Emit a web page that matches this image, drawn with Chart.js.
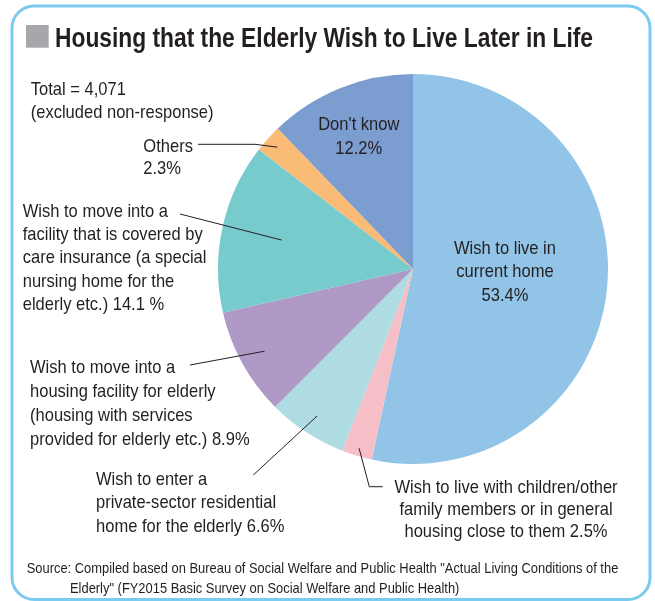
<!DOCTYPE html>
<html>
<head>
<meta charset="utf-8">
<script src="https://cdn.jsdelivr.net/npm/chart.js@4/dist/chart.umd.min.js"></script>
<style>
  html, body { margin: 0; padding: 0; background: #ffffff; }
  #wrap { position: relative; width: 655px; height: 601px; }
  canvas { display: block; }
</style>
</head>
<body>
<div id="wrap"><canvas id="c" width="655" height="601"></canvas></div>
<script>
// ---- data ----
const categories = [
  "Wish to live in current home",
  "Wish to live with children/other family members or in general housing close to them",
  "Wish to enter a private-sector residential home for the elderly",
  "Wish to move into a housing facility for elderly (housing with services provided for elderly etc.)",
  "Wish to move into a facility that is covered by care insurance (a special nursing home for the elderly etc.)",
  "Others",
  "Don't know"
];
const values = [53.4, 2.5, 6.6, 8.9, 14.1, 2.3, 12.2];
const sliceColors = ["#92c4e8", "#f6bfc7", "#aedce2", "#ae99c7", "#77cbcd", "#f9bb76", "#7c9dd0"];

const titleText = "Housing that the Elderly Wish to Live Later in Life";
const totalLines = ["Total = 4,071", "(excluded non-response)"];
const labelLines = [
  ["Wish to live in", "current home", "53.4%"],
  ["Wish to live with children/other", "family members or in general", "housing close to them 2.5%"],
  ["Wish to enter a", "private-sector residential", "home for the elderly 6.6%"],
  ["Wish to move into a", "housing facility for elderly", "(housing with services", "provided for elderly etc.) 8.9%"],
  ["Wish to move into a", "facility that is covered by", "care insurance (a special", "nursing home for the", "elderly etc.) 14.1 %"],
  ["Others", "2.3%"],
  ["Don't know", "12.2%"]
];
const sourceLines = [
  "Source: Compiled based on Bureau of Social Welfare and Public Health \"Actual Living Conditions of the",
  "Elderly\" (FY2015 Basic Survey on Social Welfare and Public Health)"
];

// ---- layout / style (not data) ----
const FONT = '"Liberation Sans", Arial, sans-serif';
const TEXT_COLOR = "#231f20";
const LABEL_SIZE = 19;
const LABEL_SX = 0.87;
const LINE_H = 23.3;
// per-slice label layout: text anchor, alignment, leader path (text side) and radial fraction for inner end
const labelLayout = [
  { x: 505, y: 254, align: "center" },
  { x: 506, y: 493.3, align: "center", lh: 22, leader: [[382.7, 486.7], [369.3, 486.7]], rf: 0.96 },
  { x: 96, y: 485, align: "left", lh: 23.3, leader: [[253.3, 475]], rf: 0.90 },
  { x: 30, y: 373, align: "left", lh: 24, leader: [[190, 365]], rf: 0.87 },
  { x: 22.7, y: 216.7, align: "left", lh: 23.3, leader: [[180, 214]], rf: 0.69 },
  { x: 143.3, y: 151.7, align: "left", lh: 22.5, leader: [[198, 144.3], [255, 144.3]], rf: 0.935 },
  { x: 358.8, y: 130, align: "center", lh: 24 }
];

function drawText(ctx, s, x, y, size, align, sx, bold) {
  ctx.save();
  ctx.font = (bold ? "bold " : "") + size + "px " + FONT;
  ctx.fillStyle = TEXT_COLOR;
  ctx.textAlign = align;
  ctx.textBaseline = "alphabetic";
  ctx.translate(x, y);
  ctx.scale(sx, 1);
  ctx.fillText(s, 0, 0);
  ctx.restore();
}
function fitScale(ctx, s, size, bold, width) {
  ctx.save();
  ctx.font = (bold ? "bold " : "") + size + "px " + FONT;
  const w = ctx.measureText(s).width;
  ctx.restore();
  return width / w;
}
function roundRect(ctx, x, y, w, h, r) {
  ctx.beginPath();
  ctx.moveTo(x + r, y);
  ctx.lineTo(x + w - r, y);
  ctx.arcTo(x + w, y, x + w, y + r, r);
  ctx.lineTo(x + w, y + h - r);
  ctx.arcTo(x + w, y + h, x + w - r, y + h, r);
  ctx.lineTo(x + r, y + h);
  ctx.arcTo(x, y + h, x, y + h - r, r);
  ctx.lineTo(x, y + r);
  ctx.arcTo(x, y, x + r, y, r);
  ctx.closePath();
}

const decor = {
  id: "decor",
  beforeDraw(chart) {
    const ctx = chart.ctx;
    ctx.save();
    ctx.fillStyle = "#ffffff";
    ctx.fillRect(0, 0, chart.width, chart.height);
    ctx.strokeStyle = "#7ccaf0";
    ctx.lineWidth = 3;
    roundRect(ctx, 12, 6, 638, 593.5, 22);
    ctx.stroke();
    // title square
    ctx.fillStyle = "#a6a7ab";
    ctx.fillRect(26, 25, 22.7, 22.7);
    ctx.restore();
    const tsx = fitScale(ctx, titleText, 28, true, 538);
    drawText(ctx, titleText, 55, 46.7, 28, "left", tsx, true);
  },
  afterDraw(chart) {
    const ctx = chart.ctx;
    const meta = chart.getDatasetMeta(0);
    // leader lines
    ctx.save();
    ctx.strokeStyle = TEXT_COLOR;
    ctx.lineWidth = 1;
    meta.data.forEach((arc, i) => {
      const L = labelLayout[i];
      if (!L.leader) return;
      const p = arc.getProps(["x", "y", "startAngle", "endAngle", "outerRadius"], true);
      const mid = (p.startAngle + p.endAngle) / 2;
      const ex = p.x + Math.cos(mid) * p.outerRadius * L.rf;
      const ey = p.y + Math.sin(mid) * p.outerRadius * L.rf;
      ctx.beginPath();
      ctx.moveTo(L.leader[0][0], L.leader[0][1]);
      for (let k = 1; k < L.leader.length; k++) ctx.lineTo(L.leader[k][0], L.leader[k][1]);
      ctx.lineTo(ex, ey);
      ctx.stroke();
    });
    ctx.restore();
    // labels
    labelLines.forEach((lines, i) => {
      const L = labelLayout[i];
      const lh = L.lh || LINE_H;
      lines.forEach((s, k) => drawText(ctx, s, L.x, L.y + k * lh, LABEL_SIZE, L.align, LABEL_SX, false));
    });
    totalLines.forEach((s, k) => drawText(ctx, s, 30.7, 95 + k * 23, LABEL_SIZE, "left", LABEL_SX, false));
    // source
    const ssx = fitScale(ctx, sourceLines[0], 14.5, false, 591.6);
    drawText(ctx, sourceLines[0], 26.7, 573.3, 14.5, "left", ssx, false);
    drawText(ctx, sourceLines[1], 70, 593.3, 14.5, "left", ssx, false);
  }
};

new Chart(document.getElementById("c"), {
  type: "pie",
  data: {
    labels: categories,
    datasets: [{
      data: values,
      backgroundColor: sliceColors,
      borderWidth: 0
    }]
  },
  options: {
    responsive: false,
    animation: false,
    rotation: 0,
    layout: { padding: { left: 218, right: 47, top: 74, bottom: 137 } },
    plugins: { legend: { display: false }, tooltip: { enabled: false } }
  },
  plugins: [decor]
});
</script>
</body>
</html>
